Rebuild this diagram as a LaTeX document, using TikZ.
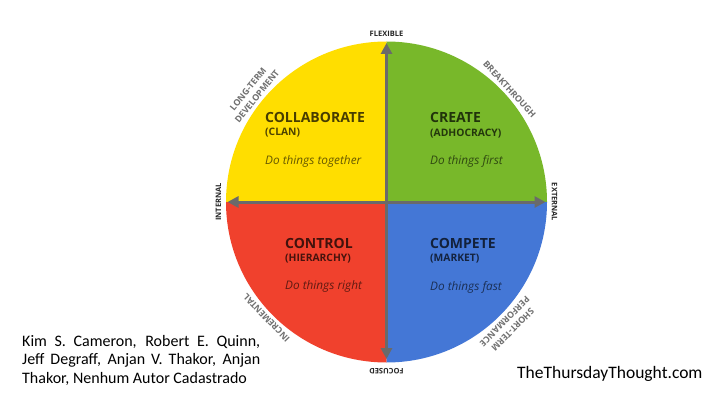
\documentclass[tikz,border=0pt]{standalone}
\usepackage{fontspec}
\setmainfont{Carlito}
\newfontfamily\dfont{Open Sans}
\usetikzlibrary{arrows.meta,calc}
\definecolor{qyellow}{HTML}{FFDE00}
\definecolor{qgreen}{HTML}{78B82A}
\definecolor{qred}{HTML}{F0412D}
\definecolor{qblue}{HTML}{4477D6}
\definecolor{axisgray}{HTML}{6A6A6A}
\definecolor{lblgray}{HTML}{707070}
\tikzset{
  axisarrow/.style={draw=axisgray, line width=3pt, {Triangle[length=11pt,width=11pt]}-{Triangle[length=11pt,width=11pt]}},
  cardlbl/.style={font=\dfont\bfseries\fontsize{7.5}{8}\selectfont, text=black!85, inner sep=0},
  diaglbl/.style={font=\dfont\bfseries\fontsize{8.8}{11.5}\selectfont, text=lblgray, inner sep=0, align=center},
  qtitle/.style={font=\dfont\bfseries\fontsize{14}{15}\selectfont, text=black, text opacity=0.72, anchor=west, inner sep=0},
  qsub/.style={font=\dfont\bfseries\fontsize{10.3}{11}\selectfont, text=black, text opacity=0.7, anchor=west, inner sep=0},
  qmotto/.style={font=\dfont\itshape\fontsize{11.8}{12}\selectfont, text=black, text opacity=0.6, anchor=west, inner sep=0}
}
\begin{document}
\begin{tikzpicture}[x=1pt,y=1pt]
\useasboundingbox (0,0) rectangle (720,405);
\fill[white] (0,0) rectangle (720,405);
\coordinate (c) at (386.5,203);
% quadrants
\fill[qyellow] (c) -- ++(180:160.5pt) arc[start angle=180,end angle=90,radius=160.5pt] -- cycle;
\fill[qgreen] (c) -- ++(90:160.5pt) arc[start angle=90,end angle=0,radius=160.5pt] -- cycle;
\fill[qred] (c) -- ++(270:160.5pt) arc[start angle=270,end angle=180,radius=160.5pt] -- cycle;
\fill[qblue] (c) -- ++(0:160.5pt) arc[start angle=0,end angle=-90,radius=160.5pt] -- cycle;
% axes
\coordinate (atop) at ($(c)+(90:159pt)$);
\coordinate (abot) at ($(c)+(270:157pt)$);
\coordinate (aleft) at ($(c)+(180:159pt)$);
\coordinate (aright) at ($(c)+(0:159pt)$);
\draw[axisarrow] (abot) -- (atop);
\draw[axisarrow] (aleft) -- (aright);
% cardinal labels
\node[cardlbl] (flex) at ($(c)+(90:168pt)$) {FLEXIBLE};
\node[cardlbl, rotate=180] (foc) at ($(c)+(270:169pt)$) {FOCUSED};
\node[cardlbl, rotate=90] (int) at ($(c)+(180:168pt)$) {INTERNAL};
\node[cardlbl, rotate=-90] (ext) at ($(c)+(0:168pt)$) {EXTERNAL};
% diagonal labels
\node[diaglbl, rotate=51] (lt) at ($(c)+(140.8:172.8pt)$) {LONG-TERM\\DEVELOPMENT};
\node[diaglbl, rotate=-47.5] (bt) at ($(c)+(42.5:167pt)$) {BREAKTHROUGH};
\node[diaglbl, rotate=134] (inc) at ($(c)+(224:167pt)$) {INCREMENTAL};
\node[diaglbl, rotate=-135] (st) at ($(c)+(-45.3:173.8pt)$) {SHORT-TERM\\PERFORMANCE};
% quadrant texts
\node[qtitle] (t1) at (265,288) {COLLABORATE};
\node[qsub] (s1) at (265,272.5) {(CLAN)};
\node[qmotto] (m1) at (265,244) {Do things together};
\node[qtitle] (t2) at (430,287) {CREATE};
\node[qsub] (s2) at (430,271.5) {(ADHOCRACY)};
\node[qmotto] (m2) at (430,244) {Do things first};
\node[qtitle] (t3) at (285,162) {CONTROL};
\node[qsub] (s3) at (285,146) {(HIERARCHY)};
\node[qmotto] (m3) at (285,119) {Do things right};
\node[qtitle] (t4) at (430,162) {COMPETE};
\node[qsub] (s4) at (430,146) {(MARKET)};
\node[qmotto] (m4) at (430,118) {Do things fast};
% credits
\node[anchor=north west, inner sep=0] (cred) at (22,70) {\parbox{238pt}{\fontsize{16}{18.5}\selectfont Kim S. Cameron, Robert E. Quinn,\linebreak Jeff Degraff, Anjan V. Thakor, Anjan\linebreak Thakor, Nenhum Autor Cadastrado}};
\node[anchor=west, inner sep=0, font=\fontsize{17.5}{18}\selectfont] (site) at (517,31) {TheThursdayThought.com};
\end{tikzpicture}
\end{document}
